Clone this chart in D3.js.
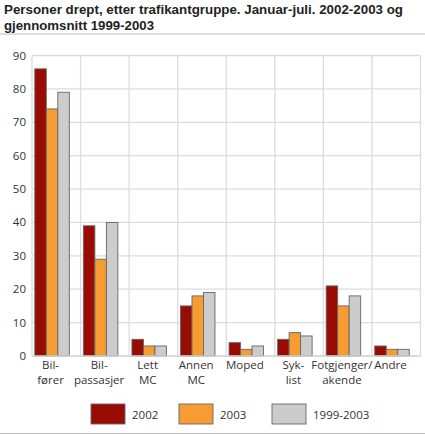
<!DOCTYPE html>
<html>
<head>
<meta charset="utf-8">
<script src="https://cdn.jsdelivr.net/npm/d3@7"></script>
<style>
  body { margin: 0; background: #fff; }
  text { font-family: "Open Sans", sans-serif; }
</style>
</head>
<body>
<div id="chart"></div>
<script>
// categories (two-line labels) and series
const categories = ["Bil-|fører", "Bil-|passasjer", "Lett|MC", "Annen|MC", "Moped", "Syk-|list", "Fotgjenger/|akende", "Andre"]
const seriesNames = ["2002", "2003", "1999-2003"]
const values2002 = [86, 39, 5, 15, 4, 5, 21, 3]
const values2003 = [74, 29, 3, 18, 2, 7, 15, 2]
const valuesAvg = [79, 40, 3, 19, 3, 6, 18, 2]
const yTicks = [0, 10, 20, 30, 40, 50, 60, 70, 80, 90]
const colors = ["#990c03", "#f79b33", "#cccccc"]

const width = 425, height = 435
const margin = {top: 55.5, right: 4, bottom: 79, left: 32}

const svg = d3.select("#chart").append("svg")
  .attr("width", width)
  .attr("height", height)

// title, two lines
const titleLines = ["Personer drept, etter trafikantgruppe. Januar-juli. 2002-2003 og", "gjennomsnitt 1999-2003"]
const titleLen = [399, 150]
titleLines.forEach((t, i) => {
  svg.append("text")
    .attr("x", 4)
    .attr("y", 14 + i * 15.5)
    .attr("textLength", titleLen[i])
    .attr("lengthAdjust", "spacingAndGlyphs")
    .style("font-family", "'Liberation Sans', sans-serif")
    .style("font-weight", "bold")
    .style("font-size", "13.5px")
    .style("fill", "#222")
    .text(t)
})

svg.append("line")
  .attr("x1", 0).attr("x2", width)
  .attr("y1", 34).attr("y2", 34)
  .style("stroke", "#bbb")

const x0 = d3.scaleBand().domain(d3.range(categories.length))
  .range([margin.left, width - margin.right - 0.5])
const yScale = d3.scaleLinear().domain([0, 90])
  .range([height - margin.bottom, margin.top])

// bars sit a little left in each band
const groupW = 34.5
const x1 = d3.scaleBand().domain(seriesNames).range([0, groupW])

// grid
svg.append("g").selectAll("line")
  .data(yTicks.slice(1))
  .enter().append("line")
  .attr("x1", margin.left).attr("x2", x0.range()[1])
  .attr("y1", d => yScale(d)).attr("y2", d => yScale(d))
  .style("stroke", "#dcdcdc").style("stroke-width", 1.3)

svg.append("g").selectAll("line")
  .data(d3.range(categories.length + 1))
  .enter().append("line")
  .attr("x1", d => margin.left + d * x0.step()).attr("x2", d => margin.left + d * x0.step())
  .attr("y1", yScale(90)).attr("y2", yScale(0))
  .style("stroke", "#dcdcdc").style("stroke-width", 1.3)

// bars
const allSeries = [values2002, values2003, valuesAvg]
allSeries.forEach((vals, s) => {
  svg.append("g").selectAll("rect")
    .data(vals)
    .enter().append("rect")
    .attr("x", (d, i) => x0(i) + 2.8 + x1(seriesNames[s]))
    .attr("width", x1.bandwidth())
    .attr("y", d => yScale(d))
    .attr("height", d => yScale(0) - yScale(d))
    .style("fill", colors[s])
    .style("stroke", "#666")
    .style("stroke-width", 0.9)
})

// bottom axis line
svg.append("line")
  .attr("x1", margin.left).attr("x2", x0.range()[1])
  .attr("y1", yScale(0)).attr("y2", yScale(0))
  .style("stroke", "#cfcfcf").style("stroke-width", 1.5)

// y tick labels
svg.append("g").selectAll("text")
  .data(yTicks)
  .enter().append("text")
  .attr("x", 26)
  .attr("y", d => yScale(d) + 4)
  .attr("text-anchor", "end")
  .style("font-size", "11.5px")
  .style("fill", "#333")
  .text(d => d)

// x labels
const xl = svg.append("g").selectAll("text")
  .data(categories)
  .enter().append("text")
  .attr("text-anchor", "middle")
  .style("font-size", "11.5px")
  .style("fill", "#333")
xl.each(function(d, i) {
  const cx = x0(i) + 2.8 + groupW / 2 - 1.5
  d.split("|").forEach((line, k) => {
    d3.select(this).append("tspan")
      .attr("x", cx)
      .attr("y", 369 + k * 14.5)
      .text(line)
  })
})

// legend
const legendX = [91, 179, 272]
const lg = svg.append("g").selectAll("g")
  .data(seriesNames)
  .enter().append("g")
  .attr("transform", (d, i) => `translate(${legendX[i]},404)`)
lg.append("rect")
  .attr("width", 34).attr("height", 20)
  .style("fill", (d, i) => colors[i])
  .style("stroke", "#666").style("stroke-width", 0.9)
lg.append("text")
  .attr("x", 41).attr("y", 14.5)
  .style("font-size", "11.5px")
  .style("fill", "#333")
  .text(d => d)

svg.append("line")
  .attr("x1", 0).attr("x2", width)
  .attr("y1", 433.5).attr("y2", 433.5)
  .style("stroke", "#bbb")
</script>
</body>
</html>
